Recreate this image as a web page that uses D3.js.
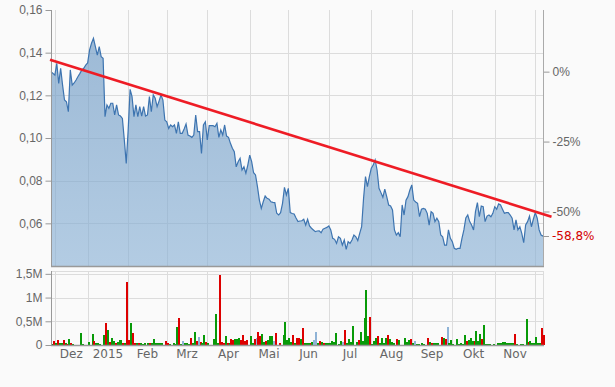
<!DOCTYPE html>
<html>
<head>
<meta charset="utf-8">
<script src="https://cdn.jsdelivr.net/npm/d3@7"></script>
<style>
  body { margin: 0; background: #fafafa; }
  svg { display: block; font-family: "DejaVu Sans", Verdana, sans-serif; }
  .axis text { fill: #666; font-size: 12px; }
  .axis path, .axis line { stroke: #999; }
</style>
</head>
<body>
<svg id="chart" width="615" height="387"></svg>
<script>
// Daily closing prices (EUR), one per trading day, late Nov 2014 - early Dec 2015
const prices = [
  0.1311,0.1303,0.1295,0.1350,0.1256,0.1327,0.1248,0.1178,0.1170,0.1123,
  0.1319,0.1248,0.1258,0.1272,0.1288,0.1303,0.1319,0.1327,0.1342,0.1352,
  0.1413,0.1444,0.1467,0.1428,0.1389,0.1428,0.1381,0.1374,0.1100,0.1155,
  0.1139,0.1163,0.1163,0.1108,0.1155,0.1108,0.1103,0.1092,0.0991,0.0881,
  0.1038,0.1228,0.1194,0.1100,0.1155,0.1100,0.1147,0.1103,0.1147,0.1103,
  0.1108,0.1194,0.1123,0.1202,0.1186,0.1147,0.1173,0.1202,0.1178,0.1084,
  0.1076,0.1045,0.1061,0.1053,0.1061,0.1022,0.1076,0.1022,0.1022,0.1042,
  0.1066,0.1014,0.1009,0.1003,0.1014,0.1108,0.1030,0.1030,0.0928,0.1061,
  0.1076,0.0991,0.1058,0.1058,0.1058,0.1053,0.1069,0.1003,0.1038,0.1014,
  0.1061,0.1009,0.1003,0.0975,0.0952,0.0936,0.0865,0.0889,0.0905,0.0850,
  0.0865,0.0835,0.0873,0.0920,0.0889,0.0837,0.0827,0.0772,0.0709,0.0670,
  0.0701,0.0728,0.0717,0.0713,0.0701,0.0698,0.0697,0.0647,0.0639,0.0650,
  0.0694,0.0769,0.0733,0.0764,0.0650,0.0646,0.0644,0.0625,0.0608,0.0611,
  0.0612,0.0619,0.0592,0.0619,0.0588,0.0577,0.0569,0.0561,0.0564,0.0565,
  0.0556,0.0573,0.0577,0.0581,0.0588,0.0569,0.0530,0.0525,0.0506,0.0537,
  0.0530,0.0498,0.0522,0.0478,0.0514,0.0506,0.0522,0.0545,0.0537,0.0519,
  0.0553,0.0584,0.0717,0.0819,0.0772,0.0819,0.0858,0.0873,0.0897,0.0850,
  0.0764,0.0744,0.0722,0.0760,0.0725,0.0686,0.0681,0.0663,0.0569,0.0545,
  0.0556,0.0537,0.0686,0.0639,0.0709,0.0725,0.0756,0.0780,0.0709,0.0700,
  0.0694,0.0631,0.0666,0.0670,0.0666,0.0647,0.0592,0.0655,0.0647,0.0608,
  0.0624,0.0608,0.0545,0.0537,0.0498,0.0498,0.0569,0.0530,0.0514,0.0483,
  0.0478,0.0483,0.0483,0.0530,0.0569,0.0625,0.0639,0.0608,0.0592,0.0569,
  0.0655,0.0697,0.0631,0.0681,0.0678,0.0608,0.0634,0.0639,0.0631,0.0647,
  0.0678,0.0666,0.0691,0.0686,0.0666,0.0647,0.0650,0.0650,0.0639,0.0624,
  0.0569,0.0616,0.0569,0.0584,0.0553,0.0509,0.0592,0.0608,0.0634,0.0584,
  0.0619,0.0650,0.0624,0.0569,0.0545,0.0540
];

// Daily volume in millions of shares
const volumes = [
  0.02,0.085,0.035,0.1,0.05,0.035,0.1,0.05,0.02,0.13,
  0.035,0.02,0.01,0.01,0.01,0.25,0.02,0.01,0.01,0.06,
  0.01,0.23,0.085,0.035,0.035,0.02,0.01,0.21,0.47,0.32,
  0.07,0.15,0.085,0.035,0.06,0.1,0.1,0.035,0.035,1.33,
  0.1,0.46,0.26,0.035,0.035,0.035,0.035,0.02,0.035,0.01,
  0.035,0.035,0.035,0.13,0.05,0.035,0.035,0.035,0.01,0.085,
  0.05,0.02,0.01,0.035,0.02,0.38,0.57,0.02,0.085,0.035,
  0.035,0.02,0.15,0.035,0.27,0.085,0.17,0.07,0.035,0.21,
  0.06,0.05,0.01,0.01,0.13,0.65,0.035,1.48,0.06,0.05,
  0.19,0.035,0.05,0.13,0.1,0.13,0.13,0.15,0.1,0.21,
  0.09,0.1,0.01,0.18,0.035,0.13,0.15,0.28,0.18,0.23,
  0.07,0.085,0.1,0.18,0.19,0.085,0.25,0.01,0.035,0.01,
  0.21,0.49,0.1,0.15,0.07,0.21,0.035,0.14,0.14,0.13,
  0.36,0.05,0.035,0.05,0.05,0.07,0.1,0.27,0.035,0.085,
  0.07,0.05,0.035,0.035,0.05,0.085,0.07,0.25,0.01,0.02,
  0.085,0.06,0.31,0.05,0.12,0.07,0.4,0.01,0.07,0.1,
  0.27,0.085,0.57,1.16,0.19,0.59,0.02,0.085,0.15,0.19,
  0.035,0.15,0.05,0.14,0.21,0.13,0.06,0.035,0.01,0.13,
  0.1,0.01,0.01,0.15,0.07,0.1,0.13,0.035,0.085,0.02,
  0.02,0.01,0.035,0.02,0.01,0.15,0.07,0.05,0.035,0.035,
  0.035,0.01,0.17,0.14,0.12,0.38,0.035,0.1,0.02,0.01,
  0.13,0.02,0.035,0.02,0.21,0.085,0.1,0.14,0.085,0.085,
  0.3,0.085,0.23,0.13,0.42,0.02,0.02,0.02,0.01,0.02,
  0.01,0.05,0.05,0.05,0.07,0.07,0.035,0.035,0.035,0.035,
  0.23,0.02,0.01,0.02,0.02,0.01,0.55,0.06,0.085,0.035,
  0.035,0.17,0.035,0.035,0.36,0.21
];

// u = up day, d = down day, n = unchanged
const volumeDir = [
  "ududuududu","duuuuuuuuu","uuduuuuudu","duuduuudud","dudduduuuu",
  "uduuuuuuud","duuuuudunu","uuduudnduu","duuuuuuddd","ududduuudd",
  "dduuudnddu","uduuundudu","uuuuududdu","duuudunnud","uduuuuuuuu",
  "unduuuuuud","uuuuuduuud","uuuuduuuud","uuuuuudunu","uuuuududuu",
  "uududnuuuu","uuuuuduuud","uuuduuuuuu","uuuuuuuuuu","duuuuuuduu",
  "uuuudd"
].join("").split("");

// first trading day of each month (index into prices) and month labels
const monthStarts = [2, 19, 40, 60, 81, 103, 123, 144, 166, 187, 208, 230, 251];
const monthLabels = ["Dez", "2015", "Feb", "Mrz", "Apr", "Mai", "Jun", "Jul", "Aug", "Sep", "Okt", "Nov"];

// tick values
const priceTicks = [0.06, 0.08, 0.10, 0.12, 0.14, 0.16];
const pctTicks = [0, -0.25, -0.5];
const volumeTicks = [0, 0.5, 1, 1.5];
const volumeTickLabels = ["0", "0,5M", "1M", "1,5M"];

// downward trend line, start and end (trading-day index, price)
const trendIdx = [-0.5, 259.4];
const trendVal = [0.1367, 0.0631];

// ---- layout
const left = 51, right = 543;
const pTop = 10, pBottom = 266;
const vTop = 271, vBottom = 345;

const svg = d3.select("#chart");
svg.append("rect").attr("width", 615).attr("height", 387).attr("fill", "#fafafa");

const x = d3.scaleLinear().domain([0, prices.length - 1]).range([left, right]);
const y = d3.scaleLinear().domain([0.04, 0.16]).range([pBottom, pTop]);
const yv = d3.scaleLinear().domain([0, 1.56]).range([vBottom, vTop]);

const base = prices[0];
const yPct = d3.scaleLinear()
  .domain([0.04 / base - 1, 0.16 / base - 1])
  .range([pBottom, pTop]);

const fmt = v => v.toFixed(2).replace(".", ",");
const grid = "#dcdcdc";

// gradient for area
const defs = svg.append("defs");
const grad = defs.append("linearGradient").attr("id", "fillGrad")
  .attr("x1", 0).attr("y1", 0).attr("x2", 0).attr("y2", 1);
grad.append("stop").attr("offset", "0%").attr("stop-color", "#6996c2");
grad.append("stop").attr("offset", "100%").attr("stop-color", "#8bb2d6");

// ---- grid lines (price panel)
svg.append("g").selectAll("line")
  .data(priceTicks.filter(d => d < 0.16))
  .join("line")
  .attr("x1", left).attr("x2", right)
  .attr("y1", d => Math.round(y(d)) + 0.5).attr("y2", d => Math.round(y(d)) + 0.5)
  .attr("stroke", grid);

svg.append("g").selectAll("line")
  .data(monthStarts)
  .join("line")
  .attr("x1", d => Math.round(x(d)) + 0.5).attr("x2", d => Math.round(x(d)) + 0.5)
  .attr("y1", pTop).attr("y2", pBottom)
  .attr("stroke", grid);

// ---- area + line
const area = d3.area()
  .x((d, i) => x(i))
  .y0(pBottom)
  .y1(d => y(d));

const line = d3.line()
  .x((d, i) => x(i))
  .y(d => y(d));

svg.append("path").datum(prices)
  .attr("d", area)
  .attr("fill", "url(#fillGrad)")
  .attr("fill-opacity", 0.64);

svg.append("path").datum(prices)
  .attr("d", line)
  .attr("fill", "none")
  .attr("stroke", "#3d74b0")
  .attr("stroke-width", 1.2);

// ---- price axes
const yAxis = svg.append("g").attr("class", "axis")
  .attr("transform", `translate(${left + 0.5},0)`)
  .call(d3.axisLeft(y).tickValues(priceTicks).tickFormat(fmt).tickSize(6).tickPadding(3).tickSizeOuter(0));
yAxis.select(".domain").remove();

svg.append("line").attr("x1", left + 0.5).attr("x2", left + 0.5)
  .attr("y1", pTop).attr("y2", pBottom).attr("stroke", "#999");
svg.append("line").attr("x1", left).attr("x2", right + 1)
  .attr("y1", pBottom + 0.5).attr("y2", pBottom + 0.5).attr("stroke", "#999").attr("stroke-width", 1.5);

const rAxis = svg.append("g").attr("class", "axis")
  .attr("transform", `translate(${right + 0.5},0)`)
  .call(d3.axisRight(yPct).tickValues(pctTicks)
    .tickFormat(p => Math.round(p * 100) + "%").tickSize(6).tickPadding(3).tickSizeOuter(0));
rAxis.select(".domain").remove();
svg.append("line").attr("x1", right + 0.5).attr("x2", right + 0.5)
  .attr("y1", pTop).attr("y2", pBottom).attr("stroke", "#aaa");

// last value marker on right axis
const lastPct = prices[prices.length - 1] / base - 1;
const lastY = yPct(lastPct);
svg.append("line").attr("x1", right).attr("x2", right + 6)
  .attr("y1", Math.round(lastY) + 0.5).attr("y2", Math.round(lastY) + 0.5).attr("stroke", "#999");
svg.append("text")
  .attr("x", right + 9).attr("y", lastY).attr("dy", "0.32em")
  .attr("font-size", 12).attr("fill", "#d40000")
  .text((lastPct * 100).toFixed(1).replace(".", ",") + "%");

// ---- trend line
svg.append("line")
  .attr("x1", x(trendIdx[0])).attr("y1", y(trendVal[0]))
  .attr("x2", x(trendIdx[1])).attr("y2", y(trendVal[1]))
  .attr("stroke", "#ee1c25").attr("stroke-width", 2.6);

// ---- volume panel
svg.append("g").selectAll("line")
  .data(volumeTicks.filter(d => d > 0))
  .join("line")
  .attr("x1", left).attr("x2", right)
  .attr("y1", d => Math.round(yv(d)) + 0.5).attr("y2", d => Math.round(yv(d)) + 0.5)
  .attr("stroke", grid);
svg.append("line").attr("x1", left).attr("x2", right)
  .attr("y1", vTop + 0.5).attr("y2", vTop + 0.5).attr("stroke", grid);
svg.append("line").attr("x1", right + 0.5).attr("x2", right + 0.5)
  .attr("y1", vTop).attr("y2", vBottom).attr("stroke", grid);

svg.append("g").selectAll("line")
  .data(monthStarts)
  .join("line")
  .attr("x1", d => Math.round(x(d)) + 0.5).attr("x2", d => Math.round(x(d)) + 0.5)
  .attr("y1", vTop).attr("y2", vBottom)
  .attr("stroke", grid);

const dirColor = { u: "#089a08", d: "#dd0000", n: "#8fb3d6" };
svg.append("g").attr("shape-rendering", "crispEdges").selectAll("rect")
  .data(volumes)
  .join("rect")
  .attr("x", (d, i) => Math.round(x(i)))
  .attr("width", 1.6)
  .attr("y", d => Math.round(yv(d)))
  .attr("height", d => vBottom - Math.round(yv(d)))
  .attr("fill", (d, i) => dirColor[volumeDir[i]]);

const vAxis = svg.append("g").attr("class", "axis")
  .attr("transform", `translate(${left + 0.5},0)`)
  .call(d3.axisLeft(yv).tickValues(volumeTicks)
    .tickFormat((d, i) => volumeTickLabels[i]).tickSize(6).tickPadding(3).tickSizeOuter(0));
vAxis.select(".domain").remove();
svg.append("line").attr("x1", left + 0.5).attr("x2", left + 0.5)
  .attr("y1", vTop).attr("y2", vBottom).attr("stroke", "#999");
svg.append("line").attr("x1", left).attr("x2", right + 1)
  .attr("y1", vBottom + 0.5).attr("y2", vBottom + 0.5).attr("stroke", "#999").attr("stroke-width", 1.5);

// ---- month labels, centred in each month
svg.append("g").attr("class", "axis").selectAll("text")
  .data(monthLabels)
  .join("text")
  .attr("x", (d, i) => x((monthStarts[i] + monthStarts[i + 1]) / 2))
  .attr("y", 358)
  .attr("text-anchor", "middle")
  .text(d => d);
</script>
</body>
</html>
